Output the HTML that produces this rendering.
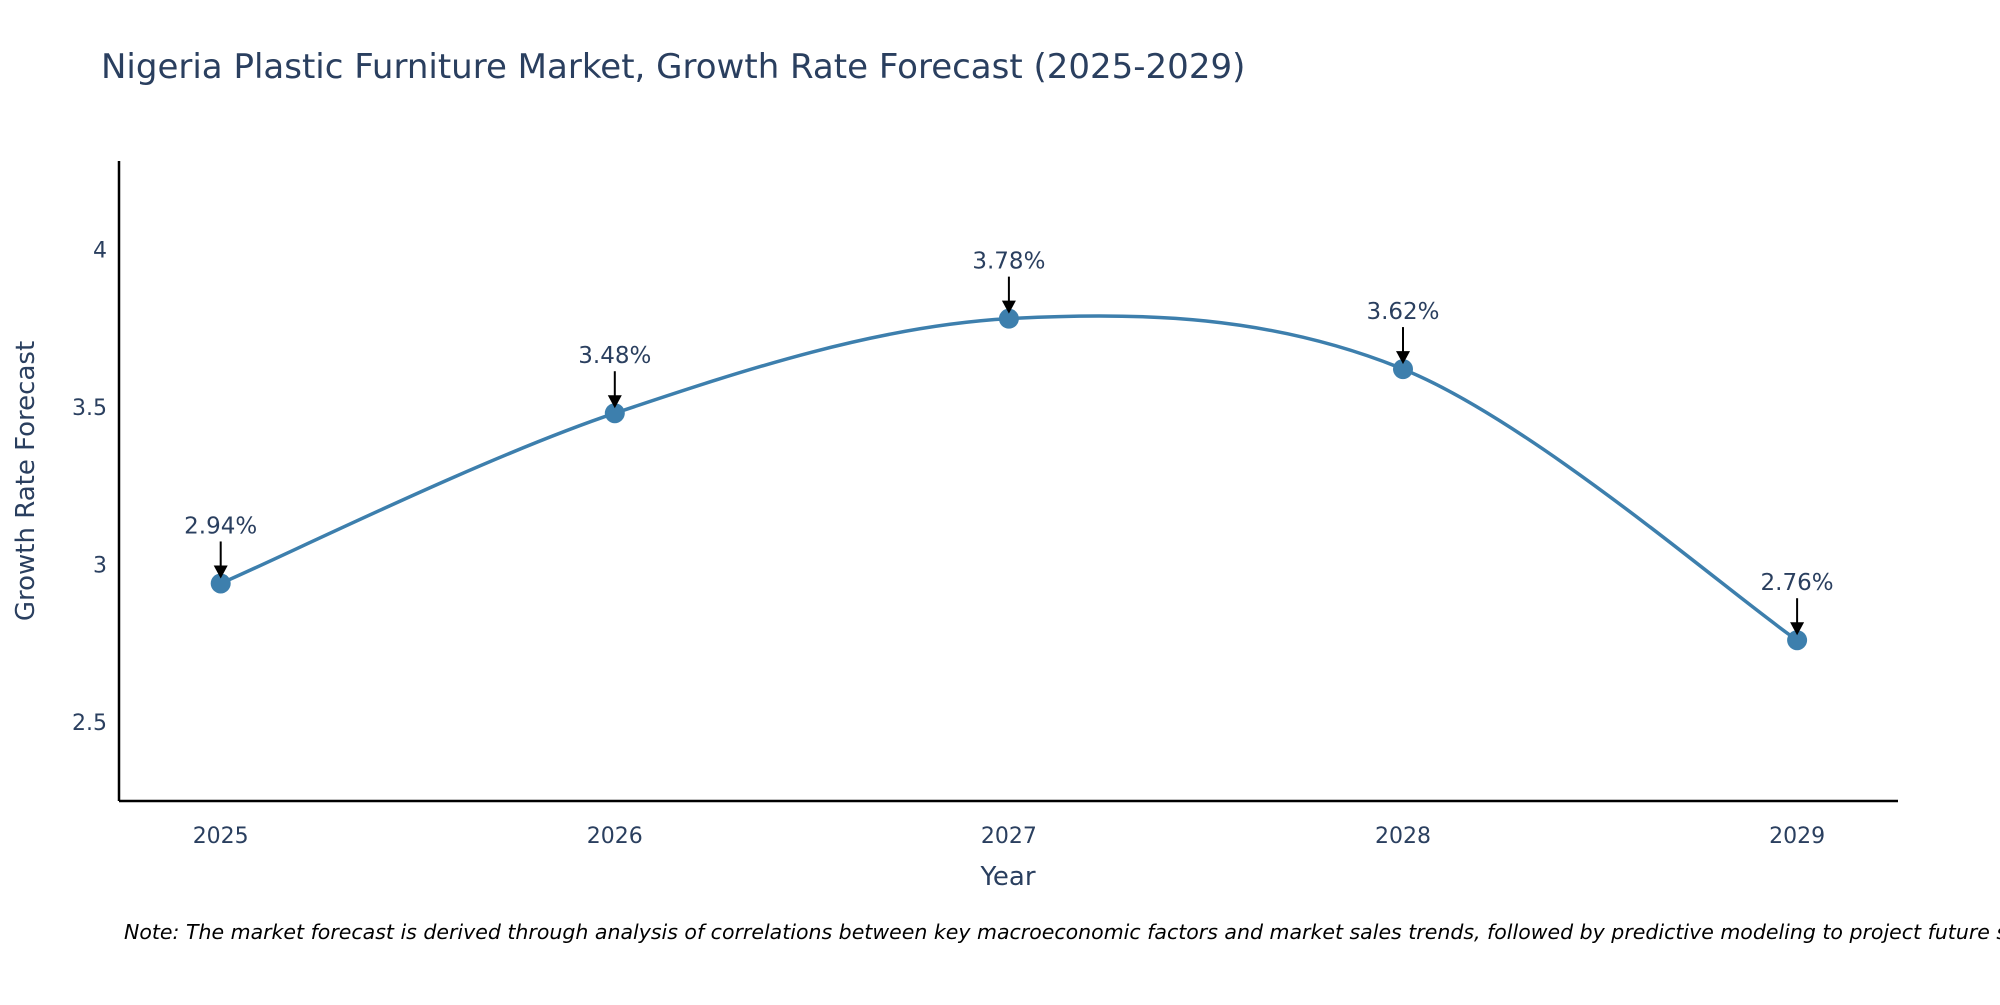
<!DOCTYPE html>
<html><head><meta charset="utf-8"><style>
body{margin:0;background:#fff;overflow:hidden;}
svg text{font-family:"DejaVu Sans","Liberation Sans",sans-serif;fill:#2a3f5f;}
</style></head><body>
<svg id="chart" width="2000" height="1000" xmlns="http://www.w3.org/2000/svg">
<text x="101" y="78" font-size="34">Nigeria Plastic Furniture Market, Growth Rate Forecast (2025-2029)</text>
<g id="axes"></g>
<g id="marks"></g>
<text x="1008" y="885" font-size="26" text-anchor="middle">Year</text>
<text transform="translate(34,481) rotate(-90)" font-size="26" text-anchor="middle">Growth Rate Forecast</text>
<text x="124" y="939" font-size="20.5" font-style="italic" style="fill:#000">Note: The market forecast is derived through analysis of correlations between key macroeconomic factors and market sales trends, followed by predictive modeling to project future sales.</text>
</svg>
<script>
const years=[2025,2026,2027,2028,2029];
const values=[2.94,3.48,3.78,3.62,2.76];
const labels=["2.94%","3.48%","3.78%","3.62%","2.76%"];
const yTicks=[2.5,3,3.5,4];
const NS="http://www.w3.org/2000/svg";
const x0=119,x1=1898,yTop=161,yBot=801;
const yMin=2.25,yMax=4.28;
const xs=v=>220.7+(v-2025)*394.1;
const ys=v=>yBot-(v-yMin)/(yMax-yMin)*(yBot-yTop);
function mk(t,a,p){const e=document.createElementNS(NS,t);for(const k in a)e.setAttribute(k,a[k]);p.appendChild(e);return e;}
const ax=document.getElementById('axes'),mg=document.getElementById('marks');
const yl=mk('line',{x1:x0,y1:yTop,x2:x0,y2:yBot,stroke:'#000','stroke-width':2.5},ax);


const xl=mk('line',{x1:x0,y1:yBot,x2:x1,y2:yBot,stroke:'#000','stroke-width':2.5},ax);


yTicks.forEach(t=>{const e=mk('text',{x:x0-12,y:ys(t)+8,'font-size':22,'text-anchor':'end'},ax);e.textContent=t;

});
years.forEach(t=>{const e=mk('text',{x:xs(t),y:yBot+42,'font-size':22,'text-anchor':'middle'},ax);e.textContent=t;

});
const P=years.map((y,i)=>[xs(y),ys(values[i])]);
let d=`M${P[0][0]},${P[0][1]}`;
for(let i=0;i<P.length-1;i++){const p0=P[i-1]||P[i],p1=P[i],p2=P[i+1],p3=P[i+2]||P[i+1];
const c1=[p1[0]+(p2[0]-p0[0])/6,p1[1]+(p2[1]-p0[1])/6],c2=[p2[0]-(p3[0]-p1[0])/6,p2[1]-(p3[1]-p1[1])/6];
d+=` C${c1[0]},${c1[1]} ${c2[0]},${c2[1]} ${p2[0]},${p2[1]}`;}
const ln=mk('path',{d:d,fill:'none',stroke:'#3d7fad','stroke-width':3.5},mg);


P.forEach((p,i)=>{const c=mk('circle',{cx:p[0],cy:p[1],r:10,fill:'#3d7fad'},mg);


const a=mk('line',{x1:p[0],y1:p[1]-42,x2:p[0],y2:p[1]-16,stroke:'#000','stroke-width':2},mg);


const h=mk('polygon',{points:`${p[0]-7},${p[1]-18} ${p[0]+7},${p[1]-18} ${p[0]},${p[1]-5}`,fill:'#000'},mg);


const t=mk('text',{x:p[0],y:p[1]-50,'font-size':23,'text-anchor':'middle'},mg);t.textContent=labels[i];

});
</script>
</body></html>
